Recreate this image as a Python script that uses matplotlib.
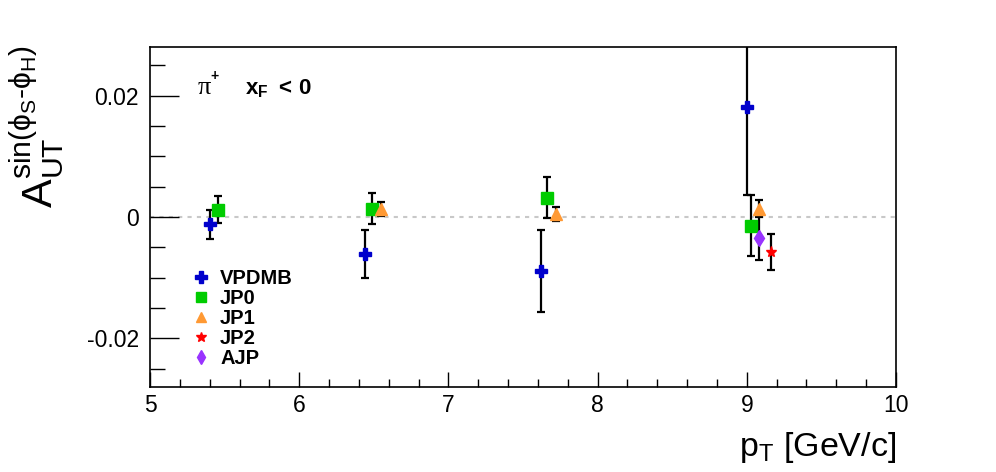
import matplotlib
matplotlib.use("Agg")
import matplotlib.pyplot as plt
from matplotlib.ticker import MultipleLocator, FixedLocator
from matplotlib.lines import Line2D

plt.rcParams['font.family'] = ['Liberation Sans', 'DejaVu Sans']
plt.rcParams['mathtext.fontset'] = 'custom'
plt.rcParams['mathtext.rm'] = 'Liberation Sans'
plt.rcParams['mathtext.it'] = 'Liberation Sans'
plt.rcParams['mathtext.bf'] = 'Liberation Sans:bold'

# ---- data ----
vpdmb_x = [5.40, 6.44, 7.62, 9.00]
vpdmb_y = [-0.0012, -0.0061, -0.0089, 0.0182]
vpdmb_e = [0.0024, 0.0040, 0.0068, 0.0146]

jp0_x = [5.455, 6.49, 7.66, 9.03]
jp0_y = [0.0012, 0.0014, 0.0032, -0.0014]
jp0_e = [0.0022, 0.0026, 0.0034, 0.0050]

jp1_x = [6.55, 7.72, 9.085]
jp1_y = [0.0013, 0.0005, 0.0014]
jp1_e = [0.0012, 0.0012, 0.0014]

jp2_x = [9.16]
jp2_y = [-0.0058]
jp2_e = [0.0030]

ajp_x = [9.08]
ajp_y = [-0.0035]
ajp_e = [0.0036]

labels = ["VPDMB", "JP0", "JP1", "JP2", "AJP"]
xs = [vpdmb_x, jp0_x, jp1_x, jp2_x, ajp_x]
ys = [vpdmb_y, jp0_y, jp1_y, jp2_y, ajp_y]
es = [vpdmb_e, jp0_e, jp1_e, jp2_e, ajp_e]
markers = ['P', 's', '^', '*', 'd']
colors = ['#0000cc', '#00cc00', '#ff9933', '#ff0000', '#9933ff']
msizes = [9, 8.5, 8, 8, 8]

fig = plt.figure(figsize=(9.96, 4.72), dpi=100)
ax = fig.add_axes([150/996, 1-387/472, 746/996, 340/472])
ax.set_xlim(5, 10)
ax.set_ylim(-0.028, 0.028)

ax.axhline(0, color='#c8c8c8', lw=1.5, ls=(0, (2, 2.5)), zorder=1)

handles = []
for name, x, y, e, m, c, ms in zip(labels, xs, ys, es, markers, colors, msizes):
    ax.errorbar(x, y, yerr=e, fmt='none', ecolor='black', elinewidth=1.6,
                capsize=3, capthick=1.6, zorder=2)
    ax.plot(x, y, ls='none', marker=m, color=c, ms=ms, mec=c, zorder=3)
    handles.append(Line2D([], [], ls='none', marker=m, color=c, ms=ms * 0.9, mec=c))

leg = ax.legend(handles, labels, loc='upper left',
                bbox_to_anchor=(191/996, 1-269/472), bbox_transform=fig.transFigure,
                frameon=False, prop={'weight': 'bold', 'size': 14.5},
                handlelength=1.0, handletextpad=0.45, labelspacing=0.05,
                borderaxespad=0, borderpad=0)

# ticks
ax.xaxis.set_major_locator(MultipleLocator(1))
ax.xaxis.set_minor_locator(MultipleLocator(0.2))
ax.yaxis.set_major_locator(FixedLocator([-0.02, 0, 0.02]))
ax.yaxis.set_minor_locator(MultipleLocator(0.005))
ax.set_yticklabels(['-0.02', '0', '0.02'])
ax.tick_params(axis='both', which='both', direction='in', top=False, right=False,
               labelsize=16.5, width=1)
ax.tick_params(axis='x', which='major', length=11, pad=5)
ax.tick_params(axis='x', which='minor', length=5.5)
ax.tick_params(axis='y', which='major', length=21, pad=8)
ax.tick_params(axis='y', which='minor', length=11)
for sp in ax.spines.values():
    sp.set_linewidth(1.2)

fig.text(896/996, 1-465/472, r'p$_{\mathregular{T}}$ [GeV/c]', ha='right', va='bottom', fontsize=24.5)
fig.text(9/996, 1-45/472,
         r'A$_{\mathregular{UT}}^{\mathregular{sin(\phi_{S}\text{-}\phi_{H})}}$',
         rotation=90, ha='left', va='top', fontsize=31)

fig.text(198/996, 1-94/472, 'π', family='Liberation Serif', ha='left', va='baseline', fontsize=19)
fig.text(210/996, 1-80/472, '+', ha='left', va='baseline', fontsize=10, weight='bold')
fig.text(245/996, 1-94/472, r'$\mathbf{x_{F}}$', ha='left', va='baseline', fontsize=16)
fig.text(278/996, 1-94/472, '<', ha='left', va='baseline', fontsize=16, weight='bold')
fig.text(298/996, 1-94/472, '0', ha='left', va='baseline', fontsize=16, weight='bold')

fig.savefig('out.png', dpi=100)
